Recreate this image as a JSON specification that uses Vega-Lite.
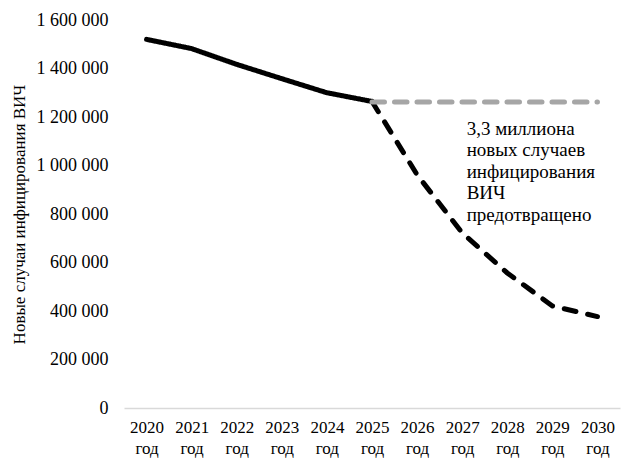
{
  "$schema": "https://vega.github.io/schema/vega-lite/v6.json",
  "width": 496,
  "height": 388,
  "autosize": {"type": "none"},
  "padding": {"left": 124, "top": 20, "right": 2, "bottom": 52},
  "background": "white",
  "data": {
    "values": [
      {"year": "2020", "series": "actual", "cases": 1520000},
      {"year": "2021", "series": "actual", "cases": 1482000},
      {"year": "2022", "series": "actual", "cases": 1417000},
      {"year": "2023", "series": "actual", "cases": 1358000},
      {"year": "2024", "series": "actual", "cases": 1300000},
      {"year": "2025", "series": "actual", "cases": 1264000},
      {"year": "2025", "series": "projected", "cases": 1264000},
      {"year": "2026", "series": "projected", "cases": 962000},
      {"year": "2027", "series": "projected", "cases": 722000},
      {"year": "2028", "series": "projected", "cases": 557000},
      {"year": "2029", "series": "projected", "cases": 421000},
      {"year": "2030", "series": "projected", "cases": 377000},
      {"year": "2025", "series": "baseline", "cases": 1262000},
      {"year": "2026", "series": "baseline", "cases": 1262000},
      {"year": "2027", "series": "baseline", "cases": 1262000},
      {"year": "2028", "series": "baseline", "cases": 1262000},
      {"year": "2029", "series": "baseline", "cases": 1262000},
      {"year": "2030", "series": "baseline", "cases": 1262000}
    ]
  },
  "encoding": {
    "x": {
      "field": "year",
      "type": "ordinal",
      "scale": {"type": "point", "padding": 0.5},
      "axis": {
        "title": null,
        "labelAngle": 0,
        "labelExpr": "[datum.label, 'год']",
        "labelFontSize": 17,
        "labelLineHeight": 21,
        "labelPadding": 11,
        "ticks": false,
        "domainColor": "#d9d9d9",
        "domainWidth": 1.5,
        "grid": false
      }
    },
    "y": {
      "field": "cases",
      "type": "quantitative",
      "scale": {"domain": [0, 1600000], "nice": false},
      "axis": {
        "title": "Новые случаи инфицирования ВИЧ",
        "titleFontSize": 17,
        "titleFontWeight": "normal",
        "titlePadding": 8,
        "values": [0, 200000, 400000, 600000, 800000, 1000000, 1200000, 1400000, 1600000],
        "labelExpr": "replace(format(datum.value, ',d'), /,/g, ' ')",
        "labelFontSize": 18,
        "labelPadding": 16,
        "ticks": false,
        "domain": false,
        "grid": false
      }
    }
  },
  "layer": [
    {
      "mark": {"type": "line", "strokeWidth": 5, "strokeCap": "round"},
      "encoding": {
        "detail": {"field": "series"},
        "color": {
          "field": "series",
          "type": "nominal",
          "scale": {"domain": ["actual", "projected", "baseline"], "range": ["#000000", "#000000", "#a6a6a6"]},
          "legend": null
        },
        "strokeDash": {
          "field": "series",
          "type": "nominal",
          "scale": {"domain": ["actual", "projected", "baseline"], "range": [[1, 0], [12, 12], [12.5, 10]]},
          "legend": null
        }
      }
    },
    {
      "transform": [{"filter": "datum.series == 'baseline' && datum.year == '2027'"}],
      "mark": {
        "type": "text",
        "align": "left",
        "baseline": "alphabetic",
        "dx": 4.5,
        "dy": 33,
        "fontSize": 19,
        "lineHeight": 21.5,
        "font": "Liberation Serif",
        "text": ["3,3 миллиона", "новых случаев", "инфицирования", "ВИЧ", "предотвращено"]
      },
      "encoding": {
        "color": {"value": "#000000"}
      }
    }
  ],
  "config": {
    "font": "Liberation Serif",
    "view": {"stroke": null},
    "axis": {"labelColor": "#000000", "titleColor": "#000000", "labelFont": "Liberation Serif", "titleFont": "Liberation Serif"}
  }
}
